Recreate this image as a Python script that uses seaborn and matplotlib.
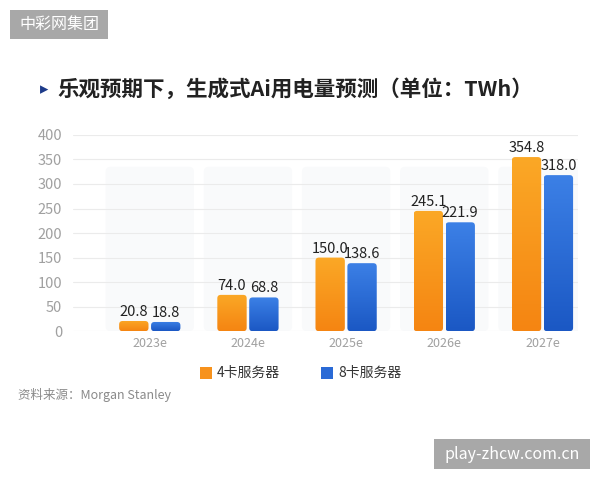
import numpy as np
import pandas as pd
import matplotlib
matplotlib.use('Agg')
import matplotlib.pyplot as plt
import seaborn as sns
from matplotlib.patches import FancyBboxPatch, Rectangle

# --------------data--------------
years = ['2023e', '2024e', '2025e', '2026e', '2027e']
servers = ['4卡服务器', '8卡服务器']
four_card = [20.8, 74.0, 150.0, 245.1, 354.8]
eight_card = [18.8, 68.8, 138.6, 221.9, 318.0]
yticks = [0, 50, 100, 150, 200, 250, 300, 350, 400]

df = pd.DataFrame({
    'year': years * 2,
    'server': [servers[0]] * len(years) + [servers[1]] * len(years),
    'value': four_card + eight_card,
})

palette = {servers[0]: '#f7921c', servers[1]: '#2a6ad6'}
grad = {servers[0]: ('#fba826', '#f58512'), servers[1]: ('#3c80e6', '#1b58c4')}

sns.set_style('white')
plt.rcParams['font.family'] = ['Noto Sans CJK SC', 'DejaVu Sans']

fig = plt.figure(figsize=(6, 4.8), dpi=100)
ax = fig.add_axes([0.122, 0.31, 0.841, 0.409])

sns.barplot(data=df, x='year', y='value', hue='server', palette=palette,
            width=0.65, gap=0.08, legend=False, ax=ax, zorder=3)

ax.set_yticks(yticks)
ax.set_yticklabels([str(t) for t in yticks])
ax.grid(axis='y', color='#ebebeb', lw=0.8, zorder=0)
for s in ax.spines.values():
    s.set_visible(False)
ax.tick_params(axis='y', length=0, colors='#a0a0a0', labelsize=10.5, pad=8)
ax.tick_params(axis='x', length=0, colors='#a0a0a0', labelsize=9, pad=4)
ax.set_xlabel('')
ax.set_ylabel('')

# faint panels behind each group
for i in range(len(years)):
    ax.add_patch(FancyBboxPatch((i - 0.45, 0), 0.9, 335,
                                boxstyle='round,pad=0,rounding_size=0.05',
                                mutation_aspect=200, fc='#f9fafb', ec='none',
                                zorder=0.5))

# gradient fill + rounded corners on bars, value labels above
vals = {servers[0]: four_card, servers[1]: eight_card}
for cont, srv in zip(ax.containers, servers):
    for bar, v in zip(cont.patches, vals[srv]):
        x0, w, h = bar.get_x(), bar.get_width(), bar.get_height()
        bar.set_visible(False)
        clip = FancyBboxPatch((x0, 0), w, h,
                              boxstyle='round,pad=0,rounding_size=0.035',
                              mutation_aspect=200, fc='none', ec='none',
                              transform=ax.transData)
        ax.add_patch(clip)
        top, bot = grad[srv]
        cmap = matplotlib.colors.LinearSegmentedColormap.from_list('g', [bot, top])
        im = ax.imshow(np.linspace(0, 1, 64).reshape(-1, 1), cmap=cmap,
                       extent=(x0, x0 + w, 0, h), origin='lower',
                       aspect='auto', zorder=3)
        im.set_clip_path(clip)
        ax.text(x0 + w / 2, h + 4, f'{v:.1f}', ha='center', va='bottom',
                fontsize=10.5, color='#222222', zorder=4, clip_on=False)

ax.set_xlim(-0.78, 4.36)
ax.set_ylim(0, 400)

# title
fig.text(0.066, 0.815, '▸', fontsize=12, color='#1d3b8a', ha='left', va='center',
         family=['DejaVu Sans'])
fig.text(0.095, 0.815, '乐观预期下，生成式Ai用电量预测（单位：TWh）', fontsize=15.5,
         fontweight='bold', color='#222222', ha='left', va='center')

# legend
for xs, srv in zip([0.333, 0.535], servers):
    fig.patches.append(Rectangle((xs, 0.2104), 0.02, 0.025, transform=fig.transFigure,
                                 fc=palette[srv], ec='none'))
    fig.text(xs + 0.029, 0.223, srv, fontsize=10, color='#333333', va='center')

# source
fig.text(0.03, 0.177, '资料来源：Morgan Stanley', fontsize=9, color='#8a8a8a', va='center')

# watermarks
fig.patches.append(Rectangle((0.0167, 0.919), 0.163, 0.0604, transform=fig.transFigure,
                             fc='#a8a8a8', ec='none'))
fig.text(0.0983, 0.949, '中彩网集团', fontsize=11.5, color='white', ha='center', va='center')
fig.patches.append(Rectangle((0.723, 0.0229), 0.26, 0.0625, transform=fig.transFigure,
                             fc='#a8a8a8', ec='none'))
fig.text(0.853, 0.054, 'play-zhcw.com.cn', fontsize=11.5, color='white', ha='center', va='center')

fig.savefig('out.png', dpi=100)
